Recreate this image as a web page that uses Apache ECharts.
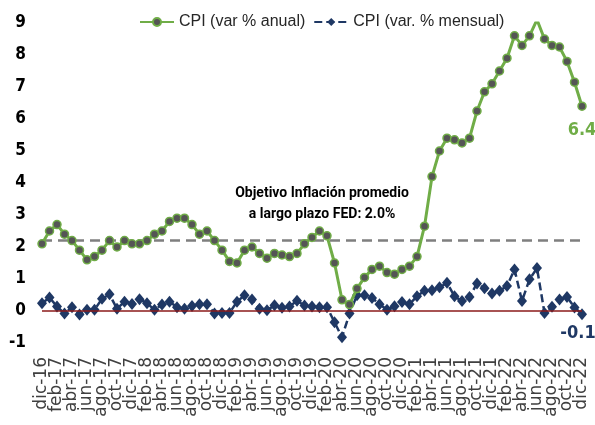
<!DOCTYPE html>
<html>
<head>
<meta charset="utf-8">
<script src="https://cdn.jsdelivr.net/npm/echarts@6.0.0/dist/echarts.min.js"></script>
<style>
  html, body { margin: 0; padding: 0; background: #fff; }
  #main { width: 595px; height: 425px; }
</style>
</head>
<body>
<div id="main"></div>
<script>
// meses (dic-16 a dic-22)
var meses = [
  'dic-16',
  'ene-17','feb-17','mar-17','abr-17','may-17','jun-17','jul-17','ago-17','sep-17','oct-17','nov-17','dic-17',
  'ene-18','feb-18','mar-18','abr-18','may-18','jun-18','jul-18','ago-18','sep-18','oct-18','nov-18','dic-18',
  'ene-19','feb-19','mar-19','abr-19','may-19','jun-19','jul-19','ago-19','sep-19','oct-19','nov-19','dic-19',
  'ene-20','feb-20','mar-20','abr-20','may-20','jun-20','jul-20','ago-20','sep-20','oct-20','nov-20','dic-20',
  'ene-21','feb-21','mar-21','abr-21','may-21','jun-21','jul-21','ago-21','sep-21','oct-21','nov-21','dic-21',
  'ene-22','feb-22','mar-22','abr-22','may-22','jun-22','jul-22','ago-22','sep-22','oct-22','nov-22','dic-22'
];

// CPI var % anual
var cpiAnual = [
  2.1,
  2.5, 2.7, 2.4, 2.2, 1.9, 1.6, 1.7, 1.9, 2.2, 2.0, 2.2, 2.1,
  2.1, 2.2, 2.4, 2.5, 2.8, 2.9, 2.9, 2.7, 2.4, 2.5, 2.2, 1.9,
  1.55, 1.5, 1.9, 2.0, 1.8, 1.65, 1.8, 1.75, 1.7, 1.8, 2.1, 2.3,
  2.5, 2.35, 1.5, 0.35, 0.2, 0.7, 1.05, 1.3, 1.4, 1.2, 1.15, 1.3,
  1.4, 1.7, 2.65, 4.2, 5.0, 5.4, 5.35, 5.25, 5.4, 6.25, 6.85, 7.1,
  7.5, 7.9, 8.6, 8.3, 8.6, 9.1, 8.5, 8.3, 8.25, 7.8, 7.15, 6.4
];

// CPI var % mensual
var cpiMensual = [
  0.24,
  0.42, 0.14, -0.08, 0.12, -0.11, 0.04, 0.04, 0.38, 0.52, 0.07, 0.29, 0.22,
  0.37, 0.24, 0.04, 0.2, 0.29, 0.12, 0.07, 0.16, 0.21, 0.21, -0.08, -0.06,
  -0.06, 0.29, 0.49, 0.36, 0.07, 0.02, 0.18, 0.1, 0.14, 0.32, 0.17, 0.14,
  0.12, 0.12, -0.35, -0.82, -0.08, 0.49, 0.49, 0.41, 0.21, 0.04, 0.15, 0.28,
  0.21, 0.46, 0.63, 0.65, 0.74, 0.88, 0.46, 0.31, 0.44, 0.86, 0.71, 0.55,
  0.63, 0.78, 1.3, 0.31, 0.99, 1.34, -0.06, 0.13, 0.36, 0.44, 0.11, -0.1
];

var objetivoFed = 2.22;   // linea punteada del objetivo
var yTicks = [-1, 9, 1];  // min, max, intervalo

var fuenteBold = "'DejaVu Sans Condensed', Roboto, sans-serif";

var chart = echarts.init(document.getElementById('main'));
var ultimo = meses.length - 1;

var option = {
  backgroundColor: '#fff',
  animation: false,
  grid: { left: 42, right: 13, top: 23, bottom: 82 },
  legend: {
    top: 9,
    left: 134,
    itemWidth: 34,
    itemHeight: 10,
    itemGap: 8,
    textStyle: { fontFamily: 'Liberation Sans', fontSize: 16, color: '#262626' },
    data: ['CPI (var % anual)', 'CPI (var. % mensual)']
  },
  xAxis: {
    type: 'category',
    data: meses,
    boundaryGap: false,
    axisLine: { show: false },
    axisTick: { show: false },
    splitLine: { show: false },
    axisLabel: {
      interval: 0,
      rotate: 90,
      margin: 14,
      fontFamily: 'DejaVu Sans',
      fontSize: 17,
      color: '#404040',
      // solo cada dos meses
      formatter: function (v, i) { return i % 2 === 0 ? v : ''; }
    }
  },
  yAxis: {
    type: 'value',
    min: yTicks[0],
    max: yTicks[1],
    interval: yTicks[2],
    axisLine: { show: false },
    axisTick: { show: false },
    splitLine: { show: false },
    axisLabel: {
      margin: 16,
      fontFamily: fuenteBold,
      fontWeight: 'bold',
      fontSize: 17,
      color: '#000'
    }
  },
  graphic: [
    {
      type: 'text',
      x: 322,
      y: 183,
      style: {
        text: 'Objetivo Inflación promedio\na largo plazo FED: 2.0%',
        align: 'center',
        verticalAlign: 'top',
        fontFamily: 'Roboto',
        fontWeight: 'bold',
        fontSize: 14,
        lineHeight: 21,
        fill: '#000'
      }
    }
  ],
  series: [
    {
      name: 'CPI (var. % mensual)',
      type: 'line',
      data: cpiMensual,
      z: 3,
      color: '#1F3864',
      symbol: 'diamond',
      symbolSize: [10, 12],
      showAllSymbol: true,
      lineStyle: { width: 2.5, type: [8, 4], color: '#1F3864' },
      itemStyle: { color: '#1F3864' },
      label: {
        show: true,
        position: 'bottom',
        distance: 4,
        offset: [-4, 0],
        fontFamily: fuenteBold,
        fontWeight: 'bold',
        fontSize: 18,
        color: '#1F3864',
        formatter: function (p) { return p.dataIndex === ultimo ? p.value.toFixed(1) : ''; }
      },
      markLine: {
        silent: true,
        symbol: 'none',
        label: { show: false },
        lineStyle: { color: '#8B1A1A', width: 1.5, type: 'solid' },
        data: [{ yAxis: 0 }]
      }
    },
    {
      name: 'CPI (var % anual)',
      type: 'line',
      data: cpiAnual,
      z: 4,
      color: '#70AD47',
      symbol: 'circle',
      symbolSize: 8,
      showAllSymbol: true,
      lineStyle: { width: 3, color: '#70AD47' },
      itemStyle: { color: '#555', borderColor: '#70AD47', borderWidth: 1.5 },
      label: {
        show: true,
        position: 'bottom',
        distance: 10,
        fontFamily: fuenteBold,
        fontWeight: 'bold',
        fontSize: 18,
        color: '#70AD47',
        formatter: function (p) { return p.dataIndex === ultimo ? p.value.toFixed(1) : ''; }
      },
      markLine: {
        silent: true,
        symbol: 'none',
        z: 1,
        label: { show: false },
        lineStyle: { color: '#7F7F7F', width: 2.5, type: [10, 6] },
        data: [{ yAxis: objetivoFed }]
      }
    }
  ]
};

chart.setOption(option);
</script>
</body>
</html>
